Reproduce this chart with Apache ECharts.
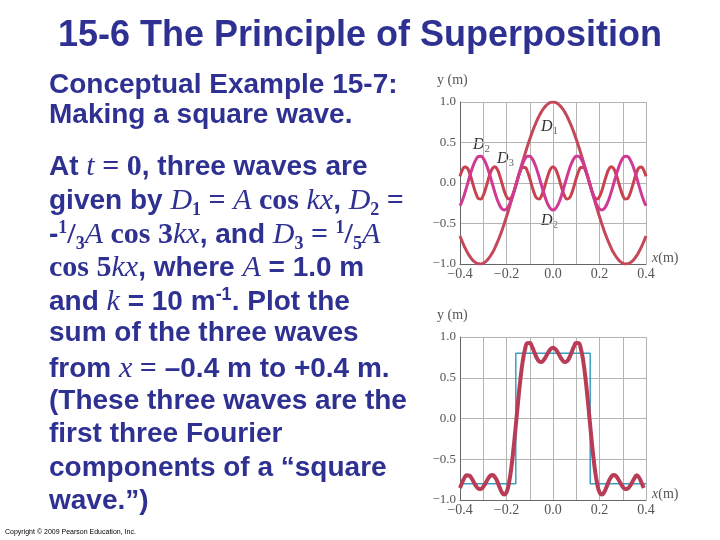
<!DOCTYPE html>
<html><head><meta charset="utf-8">
<script src="https://cdn.jsdelivr.net/npm/echarts@6/dist/echarts.min.js"></script>
<style>
html,body{margin:0;padding:0;background:#fff;}
#chart{position:absolute;left:0;top:0;width:720px;height:540px;}
.title{position:absolute;left:0;top:13px;width:720px;text-align:center;font:bold 36px 'Liberation Sans',Arial,sans-serif;color:#2e3192;line-height:42px;white-space:nowrap;}
.ln{position:absolute;left:49px;height:34px;line-height:34px;font:bold 28px 'Liberation Sans',Arial,sans-serif;color:#2e3192;white-space:nowrap;}
.m{font-family:'Liberation Serif','Times New Roman',serif;font-weight:bold;font-size:30px;}
.m i{font-weight:normal;}
.ln sup,.ln sub{font-size:18px;line-height:0;}
.ln sup{vertical-align:10px;}
.ln sub{vertical-align:-6px;}
.copy{position:absolute;left:5px;top:528px;font:7px 'Liberation Sans',Arial,sans-serif;color:#000;white-space:nowrap;}
</style></head>
<body>
<div id="chart"></div>
<div class="title">15-6 The Principle of Superposition</div>
<div class="ln" style="top:68px">Conceptual Example 15-7:</div>
<div class="ln" style="top:98px">Making a square wave.</div>
<div class="ln" style="top:148px">At <span class="m"><i>t</i> = 0</span>, three waves are</div>
<div class="ln" style="top:182px">given by <span class="m"><i>D</i><sub>1</sub> = <i>A</i> cos <i>kx</i></span>, <span class="m"><i>D</i><sub>2</sub> =</span></div>
<div class="ln" style="top:216px">-<span class="m"><sup>1</sup>/<sub>3</sub><i>A</i> cos 3<i>kx</i></span>, and <span class="m"><i>D</i><sub>3</sub> = <sup>1</sup>/<sub>5</sub><i>A</i></span></div>
<div class="ln" style="top:249px"><span class="m">cos 5<i>kx</i></span>, where <span class="m"><i>A</i></span> = 1.0 m</div>
<div class="ln" style="top:283px">and <span class="m"><i>k</i></span> = 10 m<sup>-1</sup>. Plot the</div>
<div class="ln" style="top:316px">sum of the three waves</div>
<div class="ln" style="top:350px">from <span class="m"><i>x</i> =</span> –0.4 m to +0.4 m.</div>
<div class="ln" style="top:384px">(These three waves are the</div>
<div class="ln" style="top:417px">first three Fourier</div>
<div class="ln" style="top:451px">components of a “square</div>
<div class="ln" style="top:484px">wave.”)</div>
<div class="copy">Copyright © 2009 Pearson Education, Inc.</div>
<script>
// sample positions x (m)
var xs = [-0.40,-0.39,-0.38,-0.37,-0.36,-0.35,-0.34,-0.33,-0.32,-0.31,-0.30,-0.29,-0.28,-0.27,-0.26,-0.25,-0.24,-0.23,-0.22,-0.21,-0.20,-0.19,-0.18,-0.17,-0.16,-0.15,-0.14,-0.13,-0.12,-0.11,-0.10,-0.09,-0.08,-0.07,-0.06,-0.05,-0.04,-0.03,-0.02,-0.01,
0.00,0.01,0.02,0.03,0.04,0.05,0.06,0.07,0.08,0.09,0.10,0.11,0.12,0.13,0.14,0.15,0.16,0.17,0.18,0.19,0.20,0.21,0.22,0.23,0.24,0.25,0.26,0.27,0.28,0.29,0.30,0.31,0.32,0.33,0.34,0.35,0.36,0.37,0.38,0.39,0.40];
// D1 (m)
var d1 = [-0.654,-0.726,-0.791,-0.848,-0.897,-0.937,-0.967,-0.988,-0.998,-0.999,-0.990,-0.971,-0.942,-0.904,-0.857,-0.801,-0.737,-0.666,-0.589,-0.505,-0.416,-0.323,-0.227,-0.129,-0.029,0.071,0.170,0.268,0.362,0.454,0.540,0.622,0.697,0.765,0.825,0.878,0.921,0.955,0.980,0.995,
1.000,0.995,0.980,0.955,0.921,0.878,0.825,0.765,0.697,0.622,0.540,0.454,0.362,0.268,0.170,0.071,-0.029,-0.129,-0.227,-0.323,-0.416,-0.505,-0.589,-0.666,-0.737,-0.801,-0.857,-0.904,-0.942,-0.971,-0.990,-0.999,-0.998,-0.988,-0.967,-0.937,-0.897,-0.848,-0.791,-0.726,-0.654];
// D2 (m)
var d2 = [-0.281,-0.216,-0.131,-0.035,0.065,0.159,0.238,0.296,0.328,0.331,0.304,0.250,0.173,0.081,-0.018,-0.116,-0.203,-0.272,-0.317,-0.333,-0.320,-0.278,-0.212,-0.126,-0.029,0.070,0.163,0.242,0.299,0.329,0.330,0.301,0.246,0.168,0.076,-0.024,-0.121,-0.207,-0.275,-0.318,
-0.333,-0.318,-0.275,-0.207,-0.121,-0.024,0.076,0.168,0.246,0.301,0.330,0.329,0.299,0.242,0.163,0.070,-0.029,-0.126,-0.212,-0.278,-0.320,-0.333,-0.317,-0.272,-0.203,-0.116,-0.018,0.081,0.173,0.250,0.304,0.331,0.328,0.296,0.238,0.159,0.065,-0.035,-0.131,-0.216,-0.281];
// D3 (m)
var d3 = [0.082,0.159,0.198,0.188,0.132,0.044,-0.055,-0.140,-0.192,-0.196,-0.152,-0.071,0.027,0.119,0.181,0.200,0.169,0.097,0.001,-0.095,-0.168,-0.199,-0.182,-0.120,-0.029,0.069,0.151,0.195,0.192,0.142,0.057,-0.042,-0.131,-0.187,-0.198,-0.160,-0.083,0.014,0.108,0.176,
0.200,0.176,0.108,0.014,-0.083,-0.160,-0.198,-0.187,-0.131,-0.042,0.057,0.142,0.192,0.195,0.151,0.069,-0.029,-0.120,-0.182,-0.199,-0.168,-0.095,0.001,0.097,0.169,0.200,0.181,0.119,0.027,-0.071,-0.152,-0.196,-0.192,-0.140,-0.055,0.044,0.132,0.188,0.198,0.159,0.082];
// sum of the three waves (m)
var dsum = [-0.853,-0.783,-0.724,-0.695,-0.700,-0.734,-0.784,-0.832,-0.862,-0.864,-0.838,-0.792,-0.742,-0.704,-0.694,-0.717,-0.771,-0.841,-0.905,-0.933,-0.904,-0.800,-0.621,-0.375,-0.087,0.210,0.484,0.705,0.853,0.925,0.927,0.881,0.812,0.746,0.703,0.694,0.717,0.762,0.813,0.853,
0.867,0.853,0.813,0.762,0.717,0.694,0.703,0.746,0.812,0.881,0.927,0.925,0.853,0.705,0.484,0.210,-0.087,-0.375,-0.621,-0.800,-0.904,-0.933,-0.905,-0.841,-0.771,-0.717,-0.694,-0.704,-0.742,-0.792,-0.838,-0.864,-0.862,-0.832,-0.784,-0.734,-0.695,-0.724,-0.783,-0.853];
// ideal square wave
var sqX = [-0.40,-0.16,-0.16,0.16,0.16,0.40];
var sqY = [-0.80,-0.80,0.80,0.80,-0.80,-0.80];
// tick labels
var xTicks = ['−0.4','−0.2','0.0','0.2','0.4'];
var yTicks = ['−1.0','−0.5','0.0','0.5','1.0'];

function pairs(x, y){ return x.map(function(v,i){ return [v, y[i]]; }); }
var serif = "'Liberation Serif','Times New Roman',serif";
var gridCol = '#b4b4b4';
function xAxisCfg(gi){
  return {type:'value', gridIndex:gi, min:-0.4, max:0.4, interval:0.1,
    axisLine:{show:true, onZero:false, lineStyle:{color:'#666', width:1}},
    axisTick:{show:false},
    splitLine:{show:true, lineStyle:{color:gridCol, width:1}},
    axisLabel:{margin:3, fontFamily:serif, fontSize:14, color:'#555',
      formatter:function(v){ var k=Math.round(v*10); if(k%2!==0) return ''; return xTicks[(k+4)/2]; }}};
}
function yAxisCfg(gi){
  return {type:'value', gridIndex:gi, min:-1, max:1, interval:0.5,
    axisLine:{show:true, onZero:false, lineStyle:{color:'#666', width:1}},
    axisTick:{show:false},
    splitLine:{show:true, lineStyle:{color:gridCol, width:1}},
    axisLabel:{margin:4, fontFamily:serif, fontSize:13, color:'#555',
      formatter:function(v){ return yTicks[Math.round(v*2)+2]; }}};
}
var lbl = function(left, top, sub){
  return {type:'text', left:left, top:top, style:{
    text:'{i|D}{s|'+sub+'}', rich:{
      i:{fontFamily:serif, fontStyle:'italic', fontSize:16, fill:'#333', verticalAlign:'top', lineHeight:18},
      s:{fontFamily:serif, fontSize:11, fill:'#666', verticalAlign:'bottom', lineHeight:18, padding:[8,0,0,0]}}}};
};
var nameTxt = function(left, top, t){
  return {type:'text', left:left, top:top, style:{text:t, fontFamily:serif, fontSize:14, fill:'#555'}};
};
var xName = function(left, top){
  return {type:'text', left:left, top:top, style:{text:'{i|x}(m)', fontFamily:serif, fontSize:14, fill:'#555',
    rich:{i:{fontFamily:serif, fontStyle:'italic', fontSize:14, fill:'#555'}}}};
};
var chart = echarts.init(document.getElementById('chart'), null, {renderer:'canvas'});
chart.setOption({
  animation:false,
  backgroundColor:'#fff',
  grid:[{left:460, top:102, width:186, height:162},
        {left:460, top:337, width:186, height:163}],
  xAxis:[xAxisCfg(0), xAxisCfg(1)],
  yAxis:[yAxisCfg(0), yAxisCfg(1)],
  series:[
    {type:'line', xAxisIndex:0, yAxisIndex:0, data:pairs(xs,d1), smooth:true, showSymbol:false, lineStyle:{color:'#c4485a', width:3}},
    {type:'line', xAxisIndex:0, yAxisIndex:0, data:pairs(xs,d3), smooth:true, showSymbol:false, lineStyle:{color:'#c8434f', width:3}},
    {type:'line', xAxisIndex:0, yAxisIndex:0, data:pairs(xs,d2), smooth:true, showSymbol:false, lineStyle:{color:'#cf3a94', width:3}},
    {type:'line', xAxisIndex:1, yAxisIndex:1, data:pairs(sqX,sqY), showSymbol:false, lineStyle:{color:'#3a9ec0', width:1.5}},
    {type:'line', xAxisIndex:1, yAxisIndex:1, data:pairs(xs,dsum), smooth:true, showSymbol:false, lineStyle:{color:'#b83c55', width:4}}
  ],
  graphic:[
    nameTxt(437, 73, 'y (m)'), nameTxt(437, 308, 'y (m)'),
    xName(652, 251), xName(652, 487),
    lbl(541, 118, '1'), lbl(473, 136, '2'), lbl(497, 150, '3'), lbl(541, 212, '2')
  ]
});
</script>
</body></html>
